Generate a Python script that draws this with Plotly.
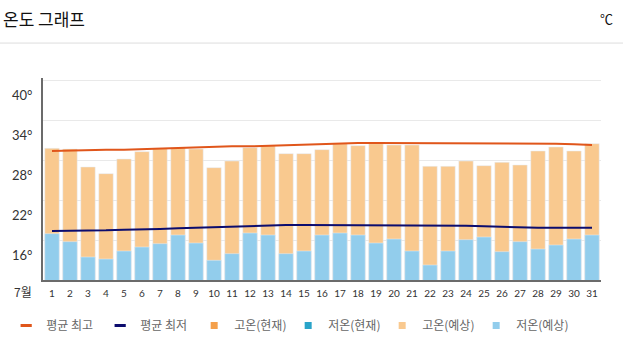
import plotly.graph_objects as go

days = list(range(1, 32))
day_labels = [str(d) for d in days]

high_forecast = [32.0, 31.9, 29.2, 28.2, 30.4, 31.5, 32.0, 32.1, 31.9, 29.1,
                 30.1, 32.1, 32.4, 31.2, 31.2, 31.8, 32.7, 32.4, 32.7, 32.5,
                 32.5, 29.3, 29.3, 30.1, 29.4, 29.9, 29.5, 31.6, 32.2, 31.6, 32.7]
low_forecast = [19.2, 18.0, 15.7, 15.4, 16.6, 17.2, 17.7, 19.0, 17.8, 15.2,
                16.2, 19.3, 19.0, 16.2, 16.6, 19.0, 19.3, 19.0, 17.8, 18.4,
                16.6, 14.5, 16.6, 18.3, 18.7, 16.5, 18.0, 16.9, 17.5, 18.4, 19.0]
avg_high = [31.6, 31.7, 31.7, 31.8, 31.8, 31.9, 32.0, 32.0, 32.1, 32.2,
            32.3, 32.3, 32.4, 32.5, 32.6, 32.7, 32.8, 32.8, 32.8, 32.8,
            32.8, 32.8, 32.8, 32.8, 32.8, 32.8, 32.8, 32.8, 32.7, 32.6, 32.5]
avg_low = [19.6, 19.6, 19.7, 19.7, 19.8, 19.8, 19.9, 20.0, 20.1, 20.2,
           20.3, 20.4, 20.5, 20.5, 20.5, 20.5, 20.5, 20.5, 20.5, 20.5,
           20.5, 20.5, 20.5, 20.4, 20.3, 20.2, 20.1, 20.1, 20.1, 20.1, 20.1]
high_current = []
low_current = []

y_ticks = [16, 22, 28, 34, 40]
y_tick_text = [f"{v}°" for v in y_ticks]

legend_names = ["평균 최고", "평균 최저", "고온(현재)", "저온(현재)", "고온(예상)", "저온(예상)"]

C_AVG_HIGH = "#e0561b"
C_AVG_LOW = "#0c0c6e"
C_HIGH_NOW = "#f4a04c"
C_LOW_NOW = "#2aa4c9"
C_HIGH_FC = "#f9c98f"
C_LOW_FC = "#92cdec"

KFONT = "Noto Sans CJK KR, sans-serif"

fig = go.Figure()
fig.add_trace(go.Bar(x=days, y=high_forecast, marker_color=C_HIGH_FC, showlegend=False,
                     name=legend_names[4]))
fig.add_trace(go.Bar(x=days, y=low_forecast, marker_color=C_LOW_FC, showlegend=False,
                     name=legend_names[5]))
fig.add_trace(go.Bar(x=high_current, y=[], marker_color=C_HIGH_NOW, showlegend=False,
                     name=legend_names[2]))
fig.add_trace(go.Bar(x=low_current, y=[], marker_color=C_LOW_NOW, showlegend=False,
                     name=legend_names[3]))
fig.add_trace(go.Scatter(x=days, y=avg_high, mode="lines", line=dict(color=C_AVG_HIGH, width=2),
                         showlegend=False, name=legend_names[0]))
fig.add_trace(go.Scatter(x=days, y=avg_low, mode="lines", line=dict(color=C_AVG_LOW, width=2),
                         showlegend=False, name=legend_names[1]))

# legend entries
leg_specs = [
    (legend_names[0], "line-ew", C_AVG_HIGH),
    (legend_names[1], "line-ew", C_AVG_LOW),
    (legend_names[2], "square", C_HIGH_NOW),
    (legend_names[3], "square", C_LOW_NOW),
    (legend_names[4], "square", C_HIGH_FC),
    (legend_names[5], "square", C_LOW_FC),
]
for name, sym, col in leg_specs:
    if sym == "line-ew":
        mk = dict(symbol=sym, size=8, line=dict(color=col, width=3))
    else:
        mk = dict(symbol=sym, size=7, color=col, line=dict(width=0))
    fig.add_trace(go.Scatter(x=[None], y=[None], mode="markers", marker=mk, name=name,
                             showlegend=True))

fig.update_layout(
    width=623, height=352,
    margin=dict(l=43, r=22, t=78, b=72, autoexpand=False),
    paper_bgcolor="white", plot_bgcolor="white",
    barmode="overlay", bargap=0.2,
    font=dict(family=KFONT, color="#333"),
    legend=dict(orientation="h", x=-0.066, xanchor="left", y=-0.153, yanchor="top",
                font=dict(size=12, color="#666", family=KFONT),
                itemwidth=30, entrywidth=49, tracegroupgap=0),
    annotations=[
        dict(text="온도 그래프", xref="paper", yref="paper", x=-0.076, y=1.297,
             xanchor="left", yanchor="middle", showarrow=False,
             font=dict(size=17, color="#111", family=KFONT)),
        dict(text="℃", xref="paper", yref="paper", x=1.01, y=1.297,
             xanchor="center", yanchor="middle", showarrow=False,
             font=dict(size=13, color="#111", family=KFONT)),
        dict(text="7월", xref="paper", yref="paper", x=-0.036, y=-0.059,
             xanchor="center", yanchor="middle", showarrow=False,
             font=dict(size=12, color="#333", family=KFONT)),
    ],
    shapes=[
        dict(type="line", xref="paper", yref="paper", x0=-0.08, x1=1.04, y0=1.173, y1=1.173,
             line=dict(color="#dddddd", width=1)),
    ],
)

fig.update_xaxes(
    range=[0.5, 31.5], tickmode="array", tickvals=days, ticktext=day_labels,
    showgrid=False, showline=True, linecolor="#6b6b6b", linewidth=2,
    ticks="outside", ticklen=3, tickcolor="rgba(0,0,0,0)",
    tickfont=dict(size=10, color="#333", family="Lato, sans-serif"), fixedrange=True,
)
fig.update_yaxes(
    range=[12.25, 42.55], tickmode="array", tickvals=y_ticks, ticktext=y_tick_text,
    showgrid=False, zeroline=False, showline=True, linecolor="#6b6b6b", linewidth=2,
    ticks="outside", ticklen=6, tickcolor="rgba(0,0,0,0)",
    tickfont=dict(size=13, color="#333", family="Lato, sans-serif"),
    minor=dict(tick0=12.25, dtick=6, showgrid=True, gridcolor="#e9e9e9", gridwidth=1, ticks=""),
)

fig.write_html("out.html")
